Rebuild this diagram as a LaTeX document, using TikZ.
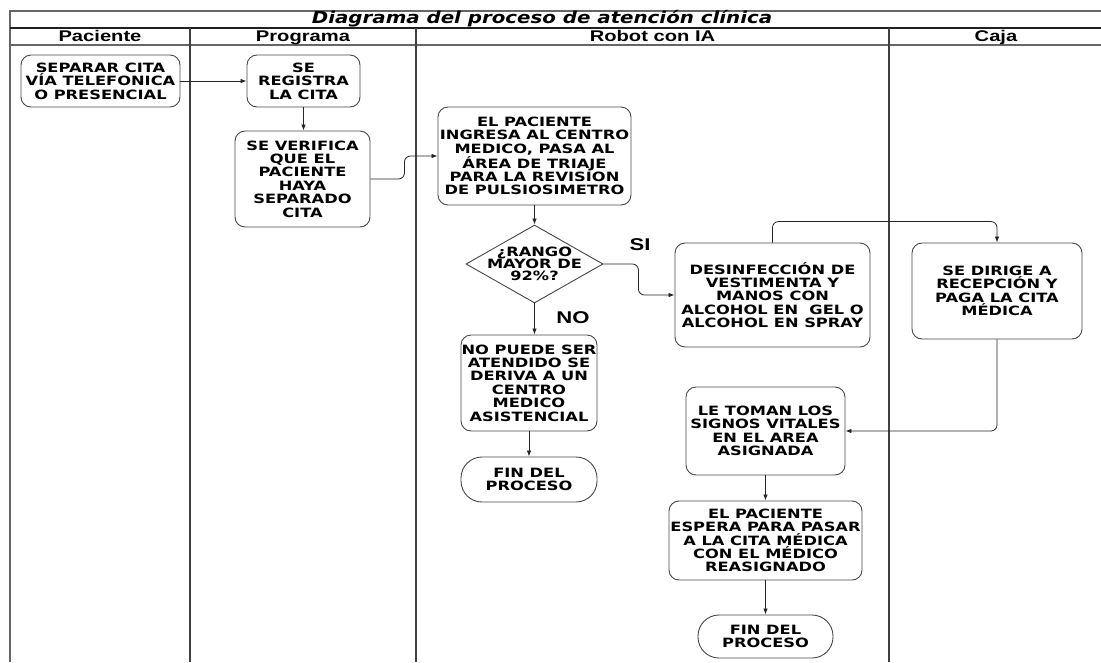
\documentclass[tikz,border=0pt]{standalone}
\usepackage{fontspec}
\usetikzlibrary{arrows.meta,shapes.geometric}
\newfontfamily\boxfont{DejaVu Sans}[FakeStretch=1.27]
\newfontfamily\headfont{Liberation Sans}[FakeStretch=1.3]
\newfontfamily\titlefont{DejaVu Sans}[FakeStretch=1.2]
\begin{document}
\begin{tikzpicture}[x=1pt,y=-1pt,
  thinrule/.style={draw=black!60, line width=1.1pt},
  darkrule/.style={draw=black!88, line width=1.1pt},
  lane/.style={draw=black!75, line width=1.1pt},
  stepbox/.style={draw=black!72, line width=0.9pt, rounded corners=10pt, fill=white,
    align=center, inner sep=0pt,
    font=\boxfont\bfseries\fontsize{12.8}{13.4}\selectfont},
  endbox/.style={stepbox, rounded corners=21pt},
  decision/.style={draw=black!72, line width=0.9pt, diamond, inner sep=0pt, fill=white},
  boxtext/.style={align=center, inner sep=0pt,
    font=\boxfont\bfseries\fontsize{12.8}{12.2}\selectfont},
  lanehead/.style={inner sep=0pt, anchor=base, font=\headfont\bfseries\fontsize{15.5}{17}\selectfont},
  answer/.style={inner sep=0pt, font=\headfont\bfseries\fontsize{17}{19}\selectfont},
  conn/.style={draw=black!85, line width=0.8pt, rounded corners=6pt,
    -{Latex[length=6pt,width=4.5pt]}}
]
\useasboundingbox (0,0) rectangle (1101,662);

% swimlane frame
\draw[thinrule] (1101,11) -- (10,11) -- (10,662);
\draw[darkrule] (10,28) -- (1101,28);
\draw[thinrule] (10,45) -- (1101,45);
\draw[lane] (190,28) -- (190,662);
\draw[lane] (416,28) -- (416,662);
\draw[lane] (889,28) -- (889,662);

% title and lane headers
\node[inner sep=0pt, anchor=base, font=\titlefont\bfseries\itshape\fontsize{16.5}{18}\selectfont]
  (title) at (542,23) {Diagrama del proceso de atención clínica};
\node[lanehead] (hpac) at (100,41.5) {Paciente};
\node[lanehead] (hprog) at (303,41.5) {Programa};
\node[lanehead] (hrob) at (652.5,41.5) {Robot con IA};
\node[lanehead] (hcaja) at (996,41.5) {Caja};

% process steps
\node[stepbox, minimum width=159pt, minimum height=52pt] (n1) at (100.5,81)
  {SEPARAR CITA\\VÍA TELEFONICA\\O PRESENCIAL};
\node[stepbox, minimum width=113pt, minimum height=52pt] (n2) at (303.5,81)
  {SE\\REGISTRA\\LA CITA};
\node[stepbox, minimum width=135pt, minimum height=96pt] (n3) at (302.5,179)
  {SE VERIFICA\\QUE EL\\PACIENTE\\HAYA\\SEPARADO\\CITA};
\node[stepbox, minimum width=193pt, minimum height=98pt] (n4) at (534.5,156)
  {EL PACIENTE\\INGRESA AL CENTRO\\MEDICO, PASA AL\\ÁREA DE TRIAJE\\PARA LA REVISION\\DE PULSIOSIMETRO};
\node[decision, minimum width=137pt, minimum height=78pt] (n5) at (534.5,264) {};
\node[boxtext] (n5txt) at (534.5,264) {¿RANGO\\MAYOR DE\\92\%?};
\node[stepbox, minimum width=195pt, minimum height=104pt] (n6) at (772.5,295)
  {DESINFECCIÓN DE\\VESTIMENTA Y\\MANOS CON\\ALCOHOL EN~ GEL O\\ALCOHOL EN SPRAY};
\node[stepbox, minimum width=170pt, minimum height=96pt] (n7) at (997,291)
  {SE DIRIGE A\\RECEPCIÓN Y\\PAGA LA CITA\\MÉDICA};
\node[stepbox, minimum width=136pt, minimum height=96pt] (n8) at (529,383)
  {NO PUEDE SER\\ATENDIDO SE\\DERIVA A UN\\CENTRO\\MEDICO\\ASISTENCIAL};
\node[endbox, minimum width=136pt, minimum height=45pt] (n9) at (529,479.5)
  {FIN DEL\\PROCESO};
\node[stepbox, minimum width=159pt, minimum height=88pt] (n10) at (765.5,431)
  {LE TOMAN LOS\\SIGNOS VITALES\\EN EL AREA\\ASIGNADA};
\node[stepbox, minimum width=193pt, minimum height=79pt] (n11) at (765.5,540.5)
  {EL PACIENTE\\ESPERA PARA PASAR\\A LA CITA MÉDICA\\CON EL MÉDICO\\REASIGNADO};
\node[endbox, minimum width=135pt, minimum height=43pt] (n12) at (765.5,636.5)
  {FIN DEL\\PROCESO};

% branch labels
\node[answer] (si) at (640,245) {SI};
\node[answer] (no) at (573,318) {NO};

% connectors
\draw[conn] (n1.east) -- (n2.west);
\draw[conn] (n2.south) -- (n2.south |- n3.north);
\draw[conn] (n3.east) -- ++(34,0) |- (n4.west);
\draw[conn] (n4.south) -- (n5.north);
\draw[conn] (n5.east) -- ++(35,0) |- (n6.west);
\draw[conn] (n5.south) -- (n5.south |- n8.north);
\draw[conn] (n8.south) -- (n9.north);
\draw[conn] (n6.north) -- ++(0,-21) -| (n7.north);
\draw[conn] (n7.south) |- (n10.east);
\draw[conn] (n10.south) -- (n11.north);
\draw[conn] (n11.south) -- (n12.north);
\end{tikzpicture}
\end{document}
